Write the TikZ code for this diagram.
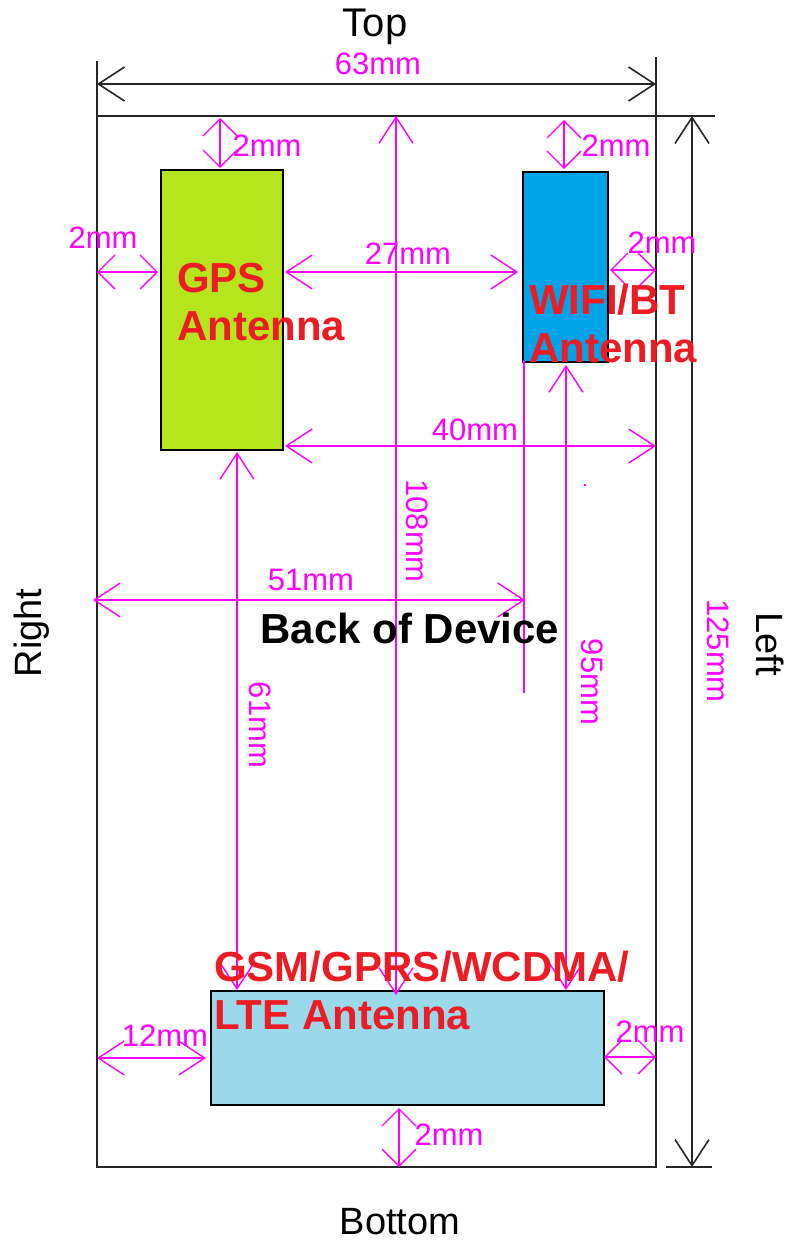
\documentclass[tikz,border=0pt]{standalone}
\usepackage{fontspec}
\setmainfont{Liberation Sans}
\usetikzlibrary{arrows.meta}
\definecolor{dimmagenta}{RGB}{255,0,255}
\definecolor{labelred}{RGB}{237,28,36}
\definecolor{gpsgreen}{RGB}{181,230,29}
\definecolor{wifiblue}{RGB}{0,162,232}
\definecolor{gsmblue}{RGB}{153,217,234}
\tikzset{
    barb/.style = {{Straight Barb[length=26pt,width=34pt]}-{Straight Barb[length=26pt,width=34pt]}},
    shortbarb/.style = {{Straight Barb[length=17pt,width=34pt]}-{Straight Barb[length=17pt,width=34pt]}},
    dim/.style = {barb, draw=dimmagenta, line width=1.4pt},
    shortdim/.style = {shortbarb, draw=dimmagenta, line width=1.4pt},
    blackdim/.style = {barb, draw=black!85, line width=1.6pt},
    edge/.style = {draw=black!85, line width=1.6pt},
    antenna/.style = {draw=black, line width=1.6pt, inner sep=0pt, outer sep=0pt},
    dimtext/.style = {text=dimmagenta, inner sep=0pt, font=\fontsize{31}{31}\selectfont},
    sidetext/.style = {text=black, inner sep=0pt, font=\fontsize{38}{38}\selectfont},
    redtext/.style = {text=labelred, inner sep=0pt, align=left, anchor=north west,
        font=\fontsize{42}{48}\selectfont\bfseries}
}
\begin{document}
\begin{tikzpicture}[x=1pt, y=-1pt]
    \useasboundingbox (0,0) rectangle (789,1242);

    % Antennas
    \node[antenna, fill=gpsgreen, minimum width=122pt, minimum height=280pt] (gps) at (222,310) {};
    \node[antenna, fill=wifiblue, minimum width=85pt, minimum height=190pt] (wifi) at (565.5,267) {};
    \node[antenna, fill=gsmblue, minimum width=393pt, minimum height=114pt] (gsm) at (407.5,1048) {};

    % Frame
    \coordinate (tl) at (97,116);
    \coordinate (tr) at (656,116);
    \coordinate (bl) at (97,1167);
    \coordinate (br) at (656,1167);
    \coordinate (tlup) at (97,61);
    \coordinate (trup) at (656,57);
    \coordinate (topend) at (715,116);
    \coordinate (botstart) at (666,1167);
    \coordinate (botend) at (712,1167);
    \draw[edge] (tlup) -- (bl) -- (br) -- (trup);
    \draw[edge] (tl) -- (topend);
    \draw[edge] (botstart) -- (botend);

    % Outer dimensions
    \coordinate (wa) at (97,84);
    \coordinate (wb) at (656,84);
    \coordinate (ha) at (692,116);
    \coordinate (hb) at (692,1167);
    \draw[blackdim] (wa) -- (wb);
    \draw[blackdim] (ha) -- (hb);

    % Gaps
    \coordinate (a1) at (220,118);  \coordinate (a2) at (220,168);
    \coordinate (b1) at (564,120);  \coordinate (b2) at (564,169);
    \coordinate (c1) at (97,272);   \coordinate (c2) at (158,272);
    \coordinate (d1) at (285,272);  \coordinate (d2) at (518,272);
    \coordinate (e1) at (396,116);  \coordinate (e2) at (396,995);
    \coordinate (f1) at (610,270);  \coordinate (f2) at (656,270);
    \coordinate (g1) at (285,446);  \coordinate (g2) at (656,446);
    \coordinate (h1) at (237,452);  \coordinate (h2) at (237,990);
    \coordinate (i1) at (566,365);  \coordinate (i2) at (566,990);
    \coordinate (j1) at (93,600);   \coordinate (j2) at (525,600);
    \coordinate (k1) at (97,1058);  \coordinate (k2) at (206,1058);
    \coordinate (l1) at (604,1057); \coordinate (l2) at (656,1057);
    \coordinate (m1) at (399,1108); \coordinate (m2) at (399,1167);
    \draw[shortdim] (a1) -- (a2);
    \draw[shortdim] (b1) -- (b2);
    \draw[shortdim] (c1) -- (c2);
    \draw[dim] (d1) -- (d2);
    \draw[dim] (e1) -- (e2);
    \draw[shortdim] (f1) -- (f2);
    \draw[dim] (g1) -- (g2);
    \draw[dim] (h1) -- (h2);
    \draw[dim] (i1) -- (i2);
    \draw[dim] (j1) -- (j2);
    \draw[dim] (k1) -- (k2);
    \draw[shortdim] (l1) -- (l2);
    \draw[shortdim] (m1) -- (m2);

    % Extension line
    \coordinate (xa) at (524,360);
    \coordinate (xb) at (524,693);
    \draw[draw=dimmagenta, line width=1.4pt] (xa) -- (xb);
    \node[fill=dimmagenta, inner sep=0pt, minimum size=2pt] (speck) at (585,485) {};

    % Dimension labels
    \node[dimtext] (t63) at (378,64) {63mm};
    \node[dimtext] (t2a) at (267,146) {2mm};
    \node[dimtext] (t2b) at (616,146) {2mm};
    \node[dimtext] (t2c) at (103,238) {2mm};
    \node[dimtext] (t27) at (408,254) {27mm};
    \node[dimtext] (t2d) at (662,243) {2mm};
    \node[dimtext] (t40) at (475,430) {40mm};
    \node[dimtext] (t51) at (311,580) {51mm};
    \node[dimtext] (t12) at (165,1036) {12mm};
    \node[dimtext] (t2e) at (650,1032) {2mm};
    \node[dimtext] (t2f) at (449,1135) {2mm};
    \node[dimtext, rotate=-90] (t108) at (417,531) {108mm};
    \node[dimtext, rotate=-90] (t61) at (260,725) {61mm};
    \node[dimtext, rotate=-90] (t95) at (592,682) {95mm};
    \node[dimtext, rotate=-90] (t125) at (718,651) {125mm};

    % Side labels
    \node[sidetext, font=\fontsize{40}{40}\selectfont] (top) at (375,27) {Top};
    \node[sidetext] (bottom) at (400,1222) {Bottom};
    \node[sidetext, rotate=90] (right) at (32,633) {Right};
    \node[sidetext, rotate=-90] (left) at (770,644) {Left};

    % Antenna labels
    \node[redtext] (gpstext) at (177,263) {GPS\\Antenna};
    \node[redtext] (wifitext) at (529,284) {WIFI/BT\\Antenna};
    \node[redtext] (gsmtext) at (214,951) {GSM/GPRS/WCDMA/\\LTE Antenna};
    \node[inner sep=0pt, font=\fontsize{42}{42}\selectfont\bfseries] (back) at (410,628) {Back of Device};

\end{tikzpicture}
\end{document}
